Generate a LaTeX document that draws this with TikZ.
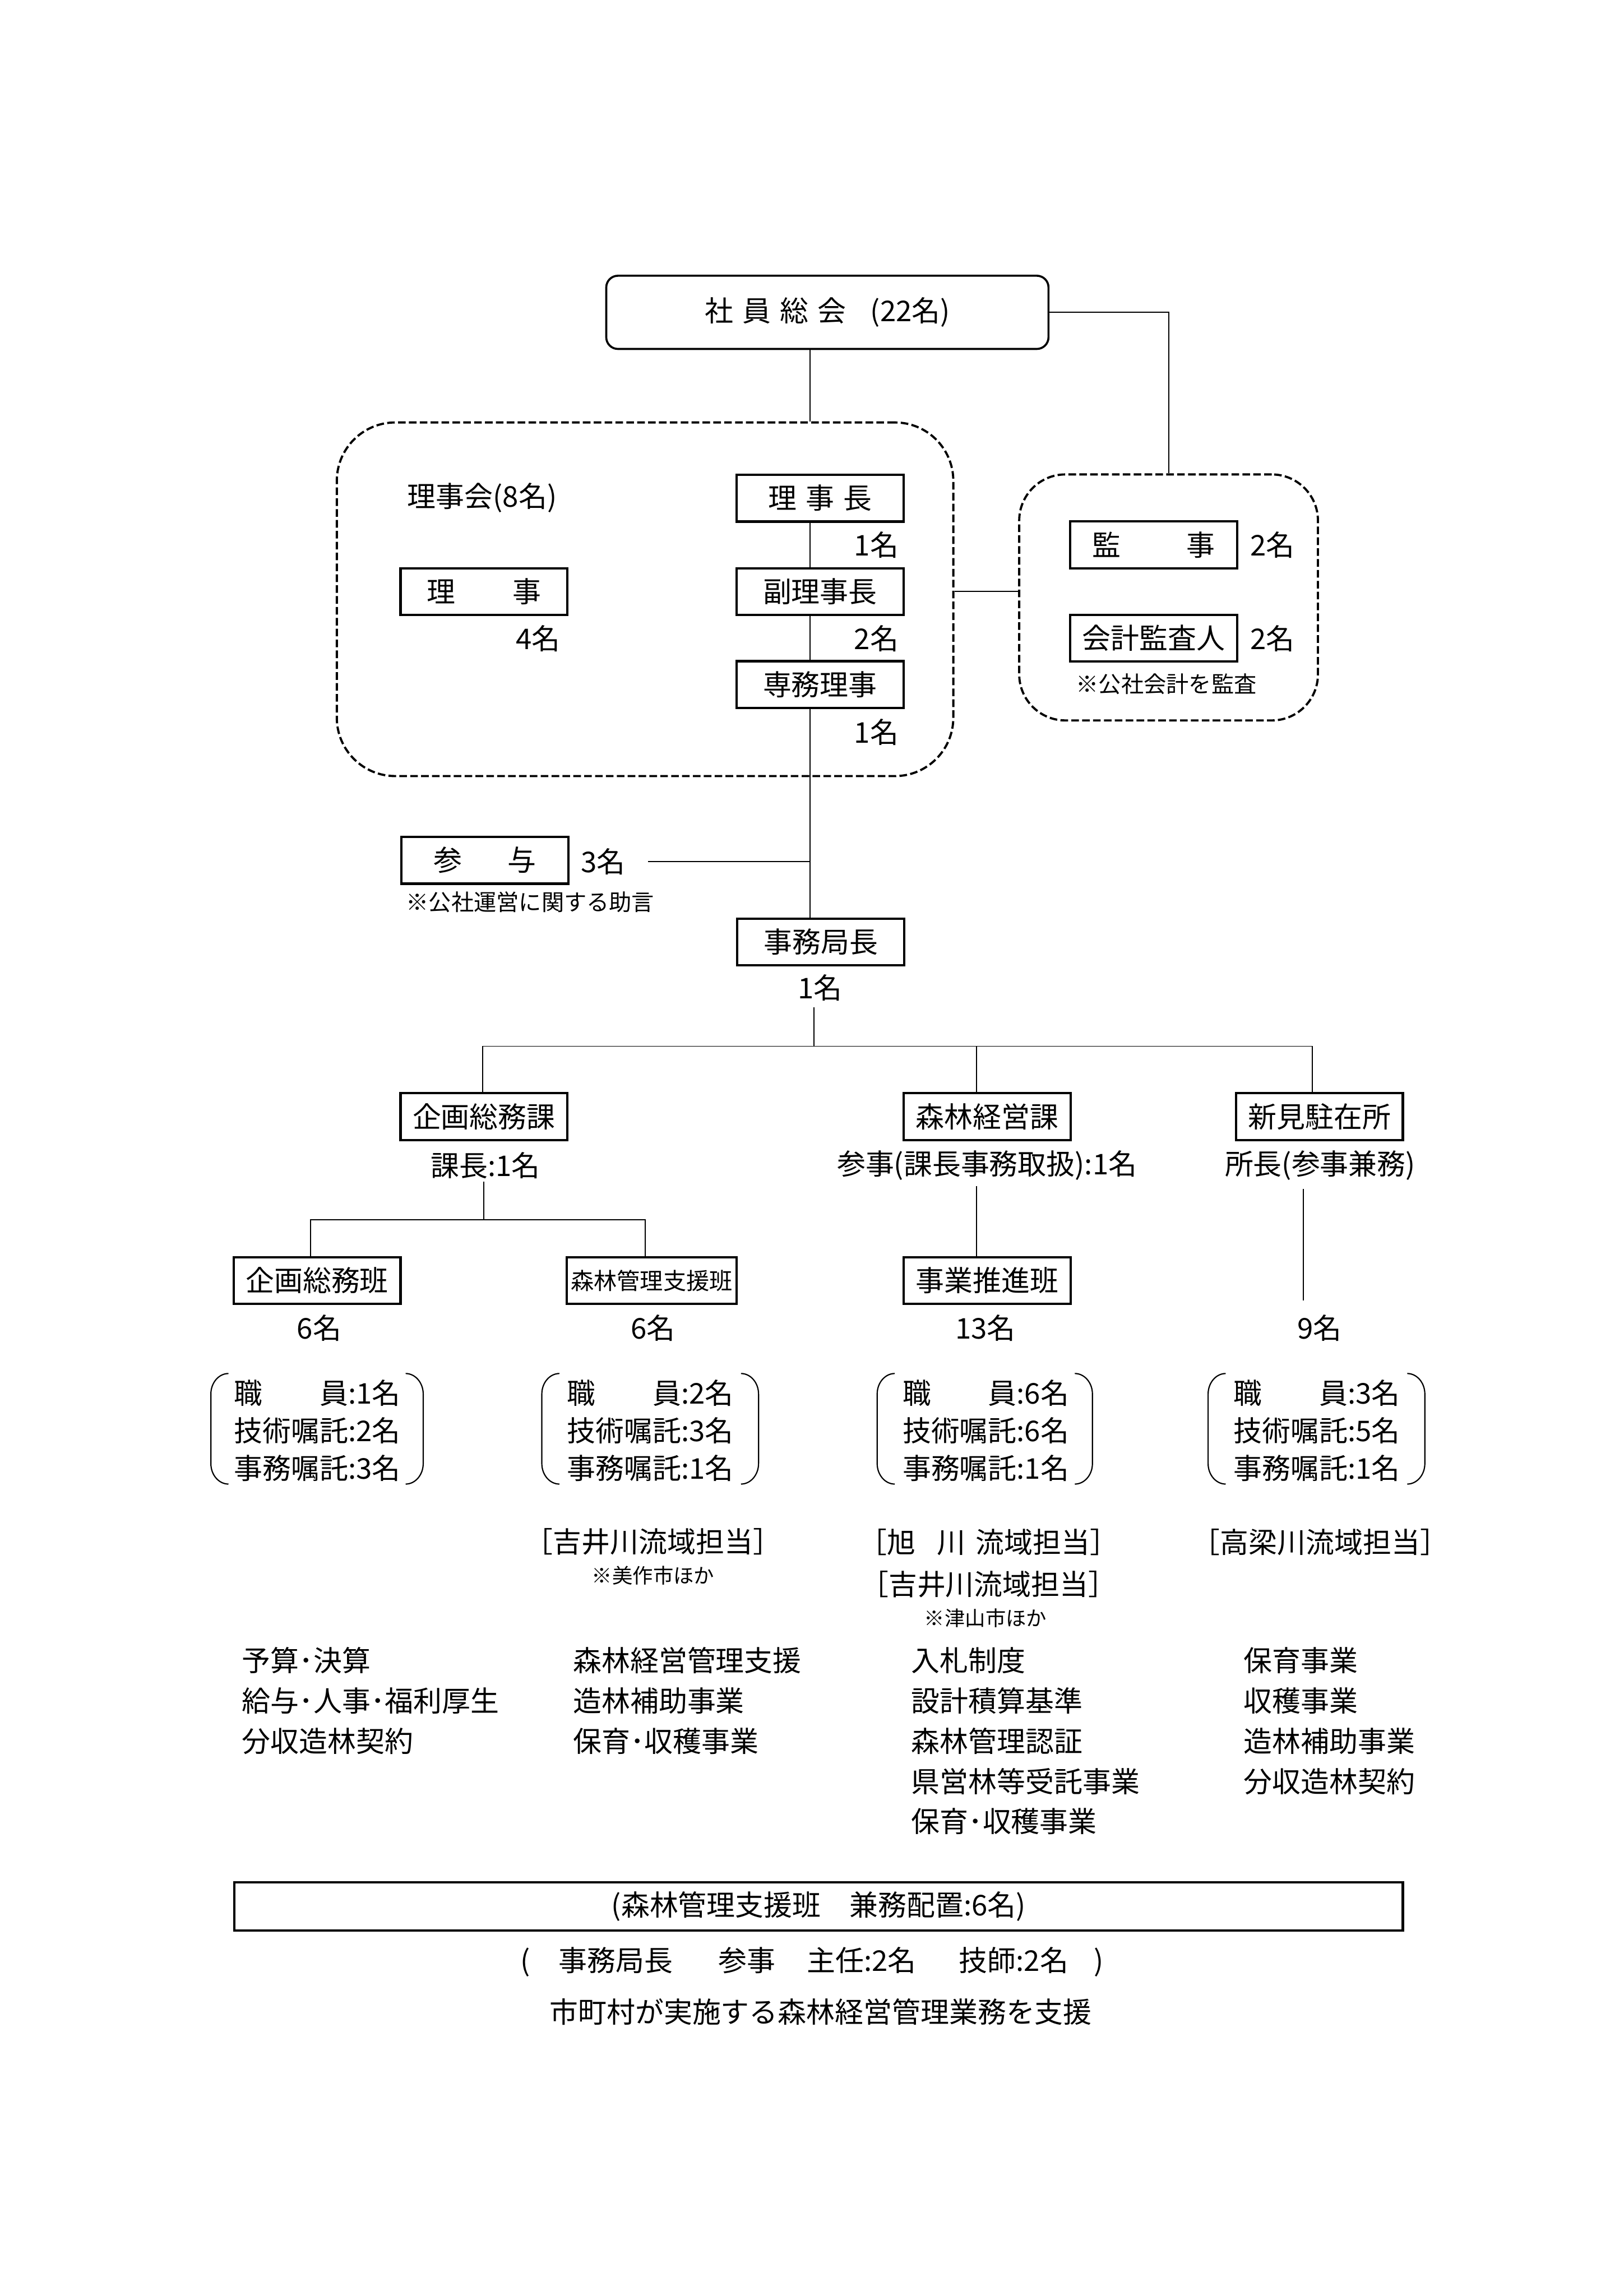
\documentclass[tikz,border=0pt]{standalone}
\usepackage{fontspec}
\setmainfont{Noto Sans CJK JP}
\usetikzlibrary{calc}
\newcommand\fmain{\fontsize{10.5}{13.74}\selectfont}
\newcommand\ftask{\fontsize{10.5}{14.82}\selectfont}
\newcommand\fsub{\fontsize{8.3}{10}\selectfont}
\newcommand\ftiny{\fontsize{7.5}{9}\selectfont}
\newcommand\fhan{\fontsize{8.5}{10}\selectfont}
\newcommand\lbrk[3]{\draw[brk] (#1+12,#2) .. controls (#1+5.4,#2) and (#1,#2+6.3) .. (#1,#2+14) -- (#1,#3-14) .. controls (#1,#3-6.3) and (#1+5.4,#3) .. (#1+12,#3);}
\newcommand\rbrk[3]{\draw[brk] (#1-12,#2) .. controls (#1-5.4,#2) and (#1,#2+6.3) .. (#1,#2+14) -- (#1,#3-14) .. controls (#1,#3-6.3) and (#1-5.4,#3) .. (#1-12,#3);}
\begin{document}
\begin{tikzpicture}[x=0.018936cm, y=-0.018936cm,
  every node/.style={font=\fmain, inner sep=0.5pt},
  box/.style={draw, line width=0.85pt, minimum width=114*0.018936cm, minimum height=32*0.018936cm, inner sep=0pt},
  conn/.style={line width=0.4pt},
  dbox/.style={draw, line width=0.8pt, dash pattern=on 2.8pt off 1.2pt, inner sep=0pt},
  brk/.style={line width=0.45pt},
  lst/.style={anchor=west, align=left, inner sep=0pt},
  tsk/.style={anchor=west, align=left, inner sep=0pt, font=\ftask}]
\fill[white] (0,0) rectangle (1109,1568);
\useasboundingbox (0,0) rectangle (1109,1568);

% top
\node[draw, line width=0.75pt, rounded corners=4.3pt, minimum width=302*0.018936cm, minimum height=50*0.018936cm, inner sep=0pt] (soukai) at (565,213.3) {社\hspace{0.32em}員\hspace{0.32em}総\hspace{0.32em}会\hspace{0.85em}(22名)\hspace{0.55em}};

% dashed groups
\node[dbox, rounded corners=21.5pt, minimum width=421*0.018936cm, minimum height=241.5*0.018936cm] (board) at (440.5,409.25) {};
\node[dbox, rounded corners=17pt, minimum width=204*0.018936cm, minimum height=168*0.018936cm] (audit) at (798,408) {};

% board members
\node[anchor=west] (rijikai) at (277,340) {理事会(8名)};
\node[box] (richo) at (560,340.2) {理\hspace{0.32em}事\hspace{0.32em}長};
\node[box] (fuku) at (560,404) {副理事長};
\node[box] (senmu) at (560,467.5) {専務理事};
\node[box] (riji) at (330.5,404) {理　　事};
\node (r1) at (598.5,372) {1名};
\node (r2) at (598.5,436) {2名};
\node (r3) at (598.5,500) {1名};
\node (riji4) at (367.5,436) {4名};

% audit
\node[box] (kanji) at (787.7,372) {監\hspace{2.3em}事};
\node[box] (kaikei) at (787.7,435.8) {会計監査人};
\node (kanji2) at (869,372) {2名};
\node (kaikei2) at (869,436) {2名};
\node[font=\fsub] (audnote) at (796.5,467) {※公社会計を監査};

% sanyo / secretariat
\node[box] (sanyo) at (331,587.5) {参\hspace{1.6em}与};
\node (san3) at (412,588.5) {3名};
\node[font=\fsub, anchor=west, inner sep=0pt] (sannote) at (277,616) {※公社運営に関する助言};
\node[box] (kyoku) at (560.5,643.3) {事務局長};
\node (kyoku1) at (560,674.5) {1名};

% sections
\node[box] (kikakuka) at (330.5,762.5) {企画総務課};
\node[box] (keieika) at (674,762.5) {森林経営課};
\node[box] (niimi) at (901,762.5) {新見駐在所};
\node (kacho) at (331.5,795.8) {課長:1名};
\node (sanji) at (674,795.8) {参事(課長事務取扱):1名};
\node (shocho) at (901.5,795.8) {所長(参事兼務)};

% teams
\node[box] (kikakuhan) at (216.5,874.5) {企画総務班};
\node[box, font=\fhan, minimum width=116*0.018936cm] (shienhan) at (445,874.5) {森林管理支援班};
\node[box] (suishin) at (674,874.5) {事業推進班};
\node (n1) at (218,907) {6名};
\node (n2) at (446,907) {6名};
\node (n3) at (673,907) {13名};
\node (n4) at (901,907) {9名};

% staff lists
\node[lst] (l1) at (159.4,977) {職　　員:1名\\技術嘱託:2名\\事務嘱託:3名};
\node[lst] (l2) at (387,977) {職　　員:2名\\技術嘱託:3名\\事務嘱託:1名};
\node[lst] (l3) at (616,977) {職　　員:6名\\技術嘱託:6名\\事務嘱託:1名};
\node[lst] (l4) at (842,977) {職　　員:3名\\技術嘱託:5名\\事務嘱託:1名};
\lbrk{144}{938}{1013.5}
\rbrk{289}{938}{1013.5}
\lbrk{370}{938}{1013.5}
\rbrk{518}{938}{1013.5}
\lbrk{599}{938}{1013.5}
\rbrk{746}{938}{1013.5}
\lbrk{825}{938}{1013.5}
\rbrk{973}{938}{1013.5}

% basins
\node (b2) at (446,1053) {［吉井川流域担当］};
\node[font=\ftiny] (b2n) at (446,1076) {※美作市ほか};
\node (b3a) at (675,1053) {［旭\hspace{0.75em}川\hspace{0.35em}流域担当］};
\node (b3b) at (675,1082) {［吉井川流域担当］};
\node[font=\ftiny] (b3n) at (673,1105) {※津山市ほか};
\node (b4) at (901.5,1053) {［高梁川流域担当］};

% tasks
\node[tsk] (t1) at (165,1161.5) {予算･決算\\給与･人事･福利厚生\\分収造林契約};
\node[tsk] (t2) at (391,1161.5) {森林経営管理支援\\造林補助事業\\保育･収穫事業};
\node[tsk] (t3) at (622,1189) {入札制度\\設計積算基準\\森林管理認証\\県営林等受託事業\\保育･収穫事業};
\node[tsk] (t4) at (849,1175.25) {保育事業\\収穫事業\\造林補助事業\\分収造林契約};

% bottom
\node[draw, line width=0.85pt, minimum width=798*0.018936cm, minimum height=33*0.018936cm, inner sep=0pt] (kenmu) at (559,1302) {(森林管理支援班\hspace{1em}兼務配置:6名)};
\node[anchor=west, inner sep=0pt] (members) at (355,1340) {(\hspace{1em}事務局長\hspace{1.6em}参事\hspace{1.1em}主任:2名\hspace{1.5em}技師:2名\hspace{0.9em})};
\node (support) at (560.5,1374) {市町村が実施する森林経営管理業務を支援};

% connectors
\coordinate (spine) at (553,0);
\draw[conn] (spine |- soukai.south) -- (spine |- board.north);
\draw[conn] (soukai.east) -| (audit.north);
\draw[conn] (board.east |- fuku) -- (audit.west |- fuku);
\draw[conn] (spine |- richo.south) -- (spine |- fuku.north);
\draw[conn] (spine |- fuku.south) -- (spine |- senmu.north);
\draw[conn] (spine |- senmu.south) -- (spine |- kyoku.north);
\draw[conn] ($(san3.east)+(14,0)$) -- (spine |- san3);

\coordinate (kx) at (556,688);
\coordinate (d1) at (329.5,714.5);
\coordinate (d2) at (667,714.5);
\coordinate (d3) at (896,714.5);
\draw[conn] (kx) -- (kx |- d1);
\draw[conn] (kikakuka.north -| d1) -- (d1) -- (d3) -- (niimi.north -| d3);
\draw[conn] (d2) -- (keieika.north -| d2);

\coordinate (e0) at (330.5,807);
\coordinate (e1) at (212,833);
\coordinate (e2) at (440.5,833);
\draw[conn] (e0) -- (e0 |- e1);
\draw[conn] (kikakuhan.north -| e1) -- (e1) -- (e2) -- (shienhan.north -| e2);
\coordinate (f0) at (667,810);
\draw[conn] (f0) -- (suishin.north -| f0);
\coordinate (g0) at (890,812);
\coordinate (g1) at (890,888);
\draw[conn] (g0) -- (g1);
\end{tikzpicture}
\end{document}
